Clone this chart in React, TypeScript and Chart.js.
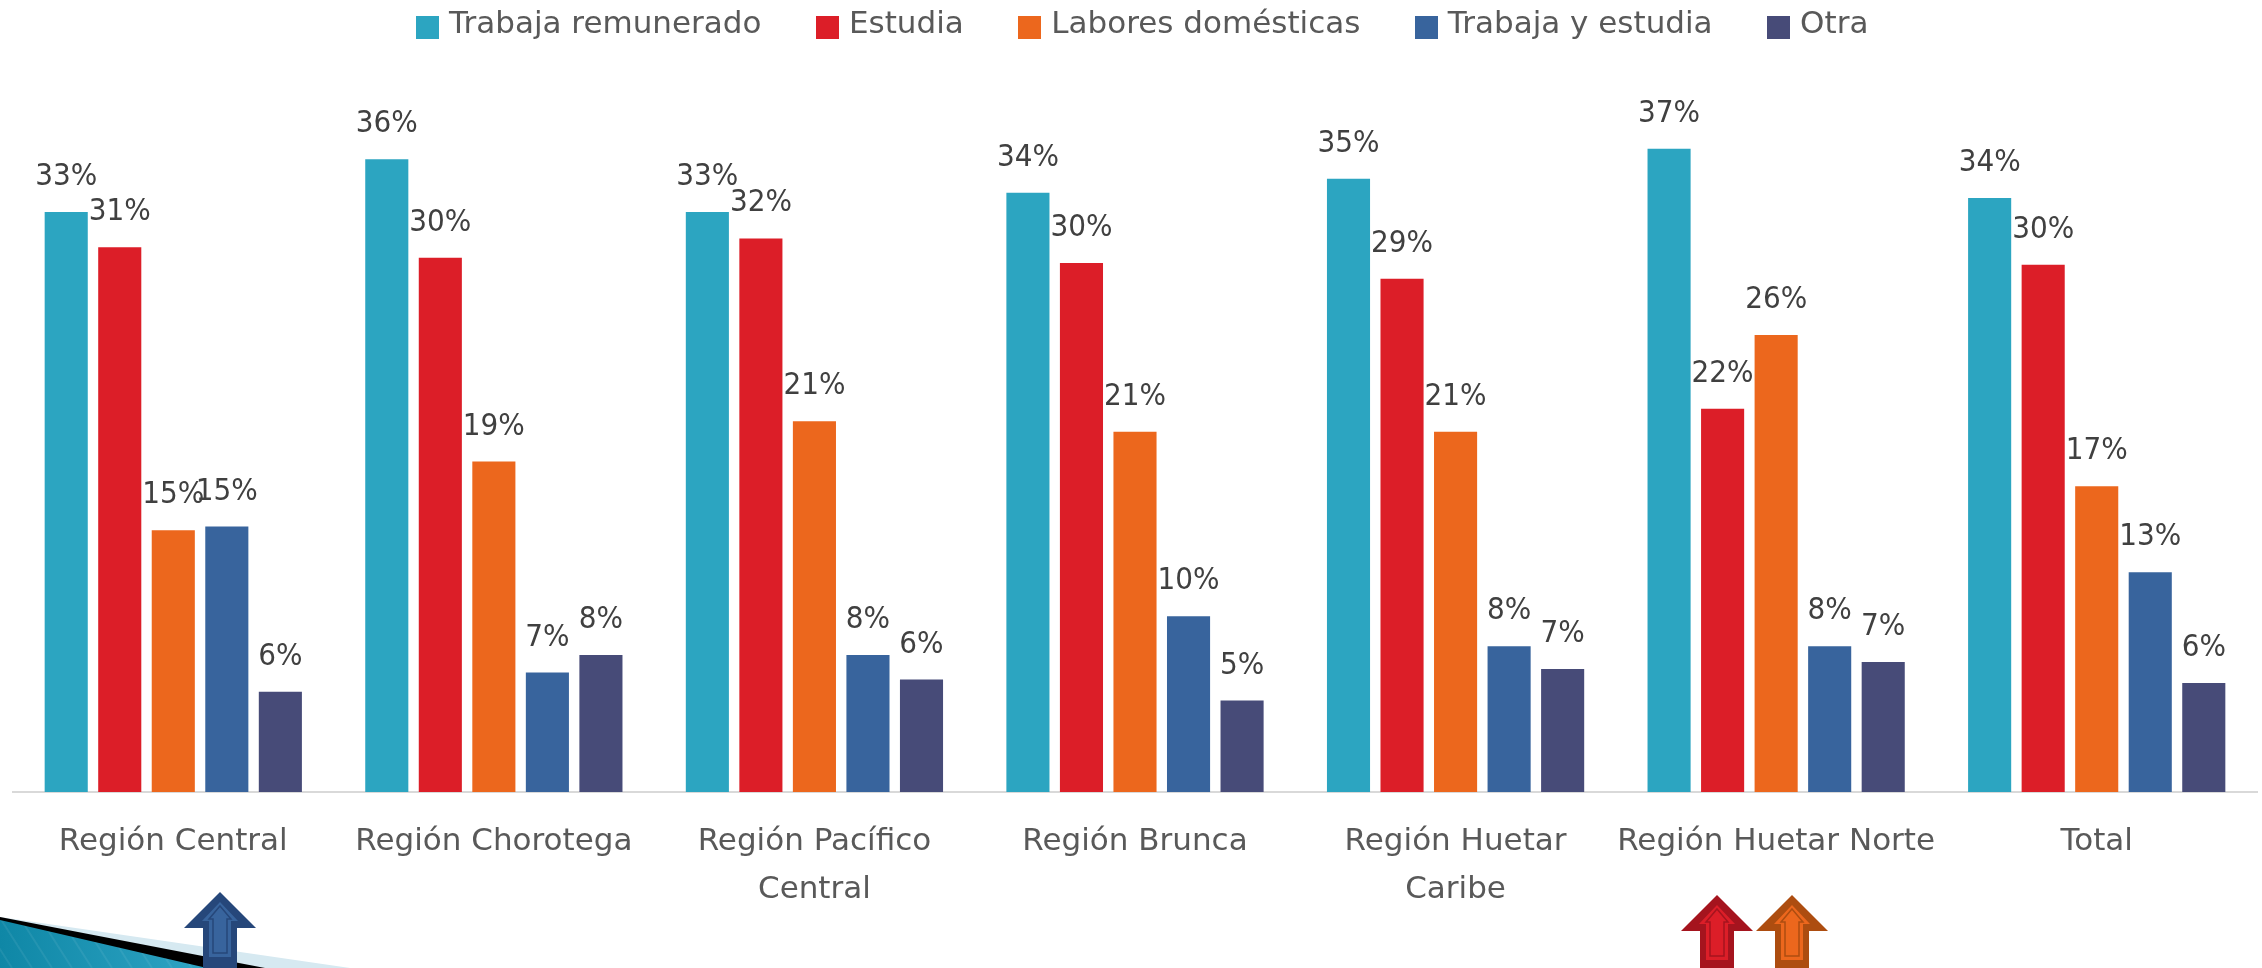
import React, { useEffect, useRef } from "react";
import { Chart, registerables } from "chart.js";

Chart.register(...registerables);

const categories = [
  "Región Central",
  "Región Chorotega",
  ["Región Pacífico", "Central"],
  "Región Brunca",
  ["Región Huetar", "Caribe"],
  "Región Huetar Norte",
  "Total",
];
const trabajaRemunerado = [33.0, 36.0, 33.0, 34.1, 34.9, 36.6, 33.8];
const estudia = [31.0, 30.4, 31.5, 30.1, 29.2, 21.8, 30.0];
const laboresDomesticas = [14.9, 18.8, 21.1, 20.5, 20.5, 26.0, 17.4];
const trabajaYEstudia = [15.1, 6.8, 7.8, 10.0, 8.3, 8.3, 12.5];
const otra = [5.7, 7.8, 6.4, 5.2, 7.0, 7.4, 6.2];

const FONT = "'DejaVu Sans', sans-serif";
const FONT_SIZE = 31;
const COLORS = ["#2ca5c1", "#dc1e28", "#ec671d", "#38649d", "#474b78"];

function swatch(color: string) {
  const c = document.createElement("canvas");
  c.width = 23;
  c.height = 29;
  const g = c.getContext("2d")!;
  g.fillStyle = color;
  g.fillRect(0, 6, 23, 23);
  return c;
}

function arrow(
  ctx: CanvasRenderingContext2D,
  cx: number,
  top: number,
  dark: string,
  light: string
) {
  const shape = (tip: number, baseY: number, hw: number, sw: number, bottom: number) => {
    ctx.beginPath();
    ctx.moveTo(cx, tip);
    ctx.lineTo(cx + hw, baseY);
    ctx.lineTo(cx + sw, baseY);
    ctx.lineTo(cx + sw, bottom);
    ctx.lineTo(cx - sw, bottom);
    ctx.lineTo(cx - sw, baseY);
    ctx.lineTo(cx - hw, baseY);
    ctx.closePath();
  };
  ctx.fillStyle = dark;
  shape(top, top + 36, 36, 17, top + 76);
  ctx.fill();
  ctx.fillStyle = light;
  shape(top + 10, top + 29, 18, 11, top + 65);
  ctx.fill();
  ctx.strokeStyle = dark;
  ctx.lineWidth = 1.5;
  shape(top + 14, top + 27, 11, 7, top + 61);
  ctx.stroke();
}

const valueLabels = {
  id: "valueLabels",
  afterDatasetsDraw(chart: any) {
    const ctx = chart.ctx;
    ctx.font = `${FONT_SIZE}px ${FONT}`;
    ctx.fillStyle = "#404040";
    ctx.textAlign = "center";
    ctx.textBaseline = "middle";
    chart.data.datasets.forEach((ds: any, i: number) => {
      chart.getDatasetMeta(i).data.forEach((bar: any, j: number) => {
        ctx.save();
        ctx.translate(bar.x, bar.y - 35);
        ctx.scale(0.9, 1);
        ctx.fillText(`${Math.round(ds.data[j])}%`, 0, 0);
        ctx.restore();
      });
    });
  },
};

const decorations = {
  id: "decorations",
  afterDraw(chart: any) {
    const ctx = chart.ctx;
    ctx.save();
    const poly = (pts: number[][], fill: any) => {
      ctx.beginPath();
      pts.forEach(([x, y], i) => (i ? ctx.lineTo(x, y) : ctx.moveTo(x, y)));
      ctx.closePath();
      ctx.fillStyle = fill;
      ctx.fill();
    };
    poly([[0, 917], [350, 968], [0, 968]], "#d6e9f1");
    poly([[0, 917], [265, 968], [0, 968]], "#000000");
    const grad = ctx.createLinearGradient(0, 0, 205, 0);
    grad.addColorStop(0, "#0f87a6");
    grad.addColorStop(1, "#2ea4c4");
    poly([[0, 920], [207, 968], [0, 968]], grad);
    ctx.save();
    ctx.clip();
    ctx.strokeStyle = "rgba(255,255,255,0.07)";
    ctx.lineWidth = 2;
    for (let x = -20; x < 240; x += 20) {
      ctx.beginPath();
      ctx.moveTo(x, 918);
      ctx.lineTo(x + 32, 968);
      ctx.stroke();
    }
    ctx.restore();
    arrow(ctx, 220, 892, "#26477a", "#38649d");
    arrow(ctx, 1717, 895, "#a5141e", "#dc1e28");
    arrow(ctx, 1792, 895, "#ad4d10", "#ec671d");
    ctx.restore();
  },
};

const legendPlacement = {
  id: "legendPlacement",
  beforeLayout(chart: any) {
    const l = chart.legend;
    if (!l.__fitPatched) {
      const fit = l.fit;
      l.fit = function () {
        fit.call(this);
        this.height = 89;
      };
      l.__fitPatched = true;
    }
  },
  afterLayout(chart: any) {
    const l = chart.legend;
    const pad = l.options.labels.padding;
    l.left += 10;
    l.right += 10;
    l.top = 9 - pad;
    l.bottom = 89;
  },
};

export default function App() {
  const ref = useRef<HTMLCanvasElement>(null);
  useEffect(() => {
    const series = [trabajaRemunerado, estudia, laboresDomesticas, trabajaYEstudia, otra];
    const names = ["Trabaja remunerado", "Estudia", "Labores domésticas", "Trabaja y estudia", "Otra"];
    const chart = new Chart(ref.current!, {
      type: "bar",
      data: {
        labels: categories as any,
        datasets: series.map((data, i) => ({
          label: names[i],
          data,
          backgroundColor: COLORS[i],
          pointStyle: swatch(COLORS[i]) as any,
          categoryPercentage: 0.835,
          barPercentage: 0.805,
        })),
      },
      options: {
        animation: false,
        responsive: false,
        layout: { padding: { left: 13, right: 5, top: 0, bottom: 0 } },
        plugins: {
          tooltip: { enabled: false },
          legend: {
            position: "top",
            labels: {
              usePointStyle: true,
              boxWidth: 12,
              boxHeight: 23,
              pointStyleWidth: 12,
              padding: 60,
              color: "#595959",
              font: { family: FONT, size: FONT_SIZE },
            },
          },
        },
        scales: {
          x: {
            grid: { display: false, drawTicks: false },
            border: { color: "#d9d9d9", width: 2 },
            afterFit: (s: any) => {
              s.height = 176;
            },
            ticks: {
              color: "#595959",
              padding: 26,
              maxRotation: 0,
              autoSkip: false,
              font: { family: FONT, size: FONT_SIZE, lineHeight: 1.55 },
            },
          },
          y: { display: false, min: 0, max: 40 },
        },
      },
      plugins: [legendPlacement, valueLabels, decorations],
    } as any);
    return () => chart.destroy();
  }, []);
  return (
    <div style={{ position: "absolute", left: 0, top: 0, width: 2262, height: 968, background: "#fff" }}>
      <canvas ref={ref} width={2262} height={968} style={{ display: "block" }} />
    </div>
  );
}
